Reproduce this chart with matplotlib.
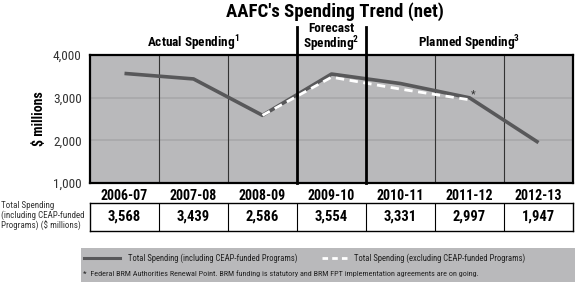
import numpy as np
import matplotlib
matplotlib.use("Agg")
import matplotlib.pyplot as plt

plt.rcParams['font.family'] = ['Roboto Condensed', 'DejaVu Sans']
plt.rcParams['mathtext.fontset'] = 'custom'
plt.rcParams['mathtext.rm'] = 'Roboto Condensed'
plt.rcParams['mathtext.bf'] = 'Roboto Condensed:bold'

years = ['2006-07', '2007-08', '2008-09', '2009-10', '2010-11', '2011-12', '2012-13']
total_incl = [3568, 3439, 2586, 3554, 3331, 2997, 1947]
total_excl = [np.nan, np.nan, 2586, 3480, 3200, 2950, np.nan]
value_labels = ['3,568', '3,439', '2,586', '3,554', '3,331', '2,997', '1,947']
yticks = [1000, 2000, 3000, 4000]

W, H = 575, 282
fig = plt.figure(figsize=(W / 100, H / 100), dpi=100)

def box(x0, y0, x1, y1):
    # pixel box (top-left origin) -> figure axes
    return fig.add_axes([x0 / W, (H - y1) / H, (x1 - x0) / W, (y1 - y0) / H])

gray = '#b9b9bb'
linecol = '#58585a'

ax = box(90, 55, 573, 183)
ax.set_facecolor(gray)
ax.set_xlim(-0.5, 6.5)
ax.set_ylim(1000, 4000)
x = np.arange(len(years))
for yv in [2000, 3000]:
    ax.axhline(yv, color='#a7a7a9', lw=1.2, zorder=1)
for xv in [0.5, 1.5, 4.5, 5.5]:
    ax.axvline(xv, color='#333333', lw=0.8, zorder=2)
for xv in [2.5, 3.5]:
    ax.plot([xv, xv], [1000, 4000 + 3000 * 0.22], color='black', lw=2,
            clip_on=False, zorder=5)
ax.plot(x, total_incl, color=linecol, lw=2.6, zorder=3, solid_capstyle='butt')
ax.plot(x, total_excl, color='white', lw=2, ls=(0, (3, 2)), zorder=4)
ax.text(5.05, 3080, '*', ha='center', va='center', fontsize=8, color='#333333')
for s in ax.spines.values():
    s.set_linewidth(1.6)
ax.set_xticks(x)
ax.set_xticklabels(years, fontsize=10, fontweight='bold')
ax.set_yticks(yticks)
ax.set_yticklabels([f'{v:,}' for v in yticks], fontsize=9.5, color='#333333')
ax.tick_params(length=0, pad=4)
ax.tick_params(axis='y', pad=6)
ax.set_ylabel('$ millions', fontsize=10, fontweight='bold', labelpad=5)

ax.text(1.0, 1.09, r'Actual Spending$^\mathbf{1}$', transform=ax.get_xaxis_transform(),
        ha='center', va='center', fontsize=9.5, fontweight='bold')
ax.text(3.0, 1.13, 'Forecast\n' + r'Spending$^\mathbf{2}$', transform=ax.get_xaxis_transform(),
        ha='center', va='center', fontsize=9.5, fontweight='bold', linespacing=0.95)
ax.text(5.0, 1.09, r'Planned Spending$^\mathbf{3}$', transform=ax.get_xaxis_transform(),
        ha='center', va='center', fontsize=9.5, fontweight='bold')

fig.text(335 / W, 1 - 12 / H, "AAFC's Spending Trend (net)", ha='center', va='center',
         fontsize=13.5, fontweight='bold')

# data table row
tb = box(90, 203, 573, 231)
tb.set_xlim(-0.5, 6.5)
tb.set_ylim(0, 1)
for xv in np.arange(0.5, 6.5, 1):
    tb.axvline(xv, color='black', lw=0.8)
for i, lab in enumerate(value_labels):
    tb.text(i, 0.5, lab, ha='center', va='center', fontsize=10.5, fontweight='bold')
tb.set_xticks([])
tb.set_yticks([])
for s in tb.spines.values():
    s.set_linewidth(1.0)
fig.text(1 / W, 1 - 216 / H, 'Total Spending\n(including CEAP-funded\nPrograms) ($ millions)',
         ha='left', va='center', fontsize=6.5, color='#333333', linespacing=1.05)

# legend panel
lg = box(81, 248, 575, 282)
lg.set_facecolor(gray)
lg.set_xlim(81, 575)
lg.set_ylim(1, 0)
lg.set_xticks([])
lg.set_yticks([])
for s in lg.spines.values():
    s.set_visible(False)
lg.plot([84, 120], [0.3, 0.3], color=linecol, lw=2.2)
lg.text(128, 0.3, 'Total Spending (including CEAP-funded Programs)', va='center',
        fontsize=6.2, color='#222222')
lg.plot([322, 347], [0.3, 0.3], color='white', lw=2, ls=(0, (2, 1.5)))
lg.text(354, 0.3, 'Total Spending (excluding CEAP-funded Programs)', va='center',
        fontsize=6.2, color='#222222')
lg.text(83, 0.75, '*  Federal BRM Authorities Renewal Point. BRM funding is statutory '
        'and BRM FPT implementation agreements are on going.', va='center',
        fontsize=5.9, color='#222222')

fig.savefig('out.png', dpi=100)
